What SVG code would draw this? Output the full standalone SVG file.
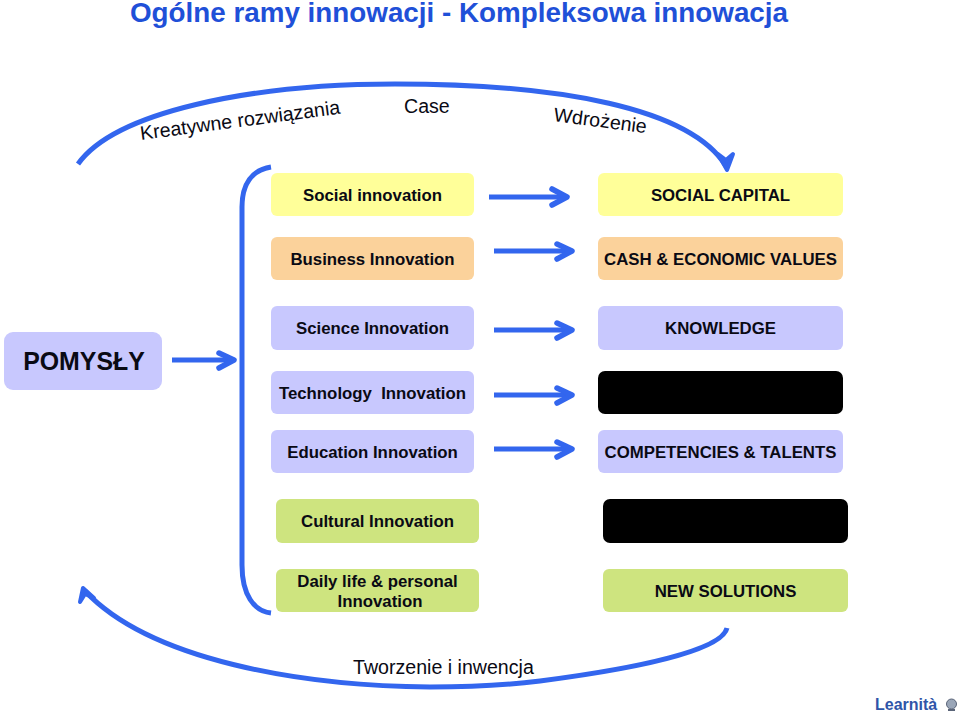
<svg xmlns="http://www.w3.org/2000/svg" width="960" height="714" viewBox="0 0 960 714">
<style>
text{font-family:"Liberation Sans",Arial,sans-serif;fill:#0a0a14}
.b{font-weight:bold;font-size:16.8px;text-anchor:middle}
.l{font-size:19.6px}
.y{fill:#FFFF99}.o{fill:#FBD29B}.p{fill:#C8C8FE}.g{fill:#CEE47F}.k{fill:#000}
.c{fill:none;stroke:#3366EE;stroke-linecap:butt}
.a{stroke-width:5}.h{stroke-width:5.500;stroke-linecap:round;stroke-linejoin:round}
</style>
<rect width="960" height="714" fill="#fff"/>
<text x="459" y="22" text-anchor="middle" style="font-size:27.800px;font-weight:bold;fill:#1F50D8">Ogólne ramy innowacji - Kompleksowa innowacja</text>
<g id="connectors">
<path class="c" stroke-width="5" d="M78 164C115 112 250 84 395 84C560 84 690 108 726 166"/>
<path d="M718 154L727 170L733 154L726 160Z" fill="#3366EE" stroke="#3366EE" stroke-width="4" stroke-linejoin="round"/>
<path class="c" stroke-width="5" d="M271 167C252 170 242 184 242 207V565C242 595 254 611 271 613"/>
<path class="c" stroke-width="5" d="M727 628C722 650 640 668 540 681C500 686 460 687 430 687C300 686 150 660 85 591"/>
<path d="M80 602L83 588L94 598L85 594Z" fill="#3366EE" stroke="#3366EE" stroke-width="4" stroke-linejoin="round"/>
<g id="arrows">
<path class="c a" d="M172 360H232"/><path class="c h" d="M219 353L234 360L219 368"/>
<path class="c a" d="M489 197H565"/><path class="c h" d="M552 189L567 197L552 205"/>
<path class="c a" d="M494 251H570"/><path class="c h" d="M557 244L572 251L557 259"/>
<path class="c a" d="M494 330H570"/><path class="c h" d="M557 323L572 330L557 338"/>
<path class="c a" d="M494 395H570"/><path class="c h" d="M557 388L572 395L557 403"/>
<path class="c a" d="M494 449H570"/><path class="c h" d="M557 442L572 449L557 457"/>
</g>
</g>
<g id="pomysly"><rect class="p" x="4" y="332" width="158" height="58" rx="9"/><text x="84" y="370" text-anchor="middle" style="font-size:24.900px;font-weight:bold">POMYSŁY</text></g>
<g id="social"><rect class="y" x="271" y="173" width="203" height="43" rx="6"/><text class="b" x="372.500" y="201">Social innovation</text></g>
<g id="business"><rect class="o" x="271" y="237" width="203" height="43" rx="6"/><text class="b" x="372.500" y="265">Business Innovation</text></g>
<g id="science"><rect class="p" x="271" y="306" width="203" height="44" rx="6"/><text class="b" x="372.500" y="334">Science Innovation</text></g>
<g id="technology"><rect class="p" x="271" y="371" width="203" height="43" rx="6"/><text class="b" x="372.500" y="399" xml:space="preserve">Technology  Innovation</text></g>
<g id="education"><rect class="p" x="271" y="430" width="203" height="43" rx="6"/><text class="b" x="372.500" y="458">Education Innovation</text></g>
<g id="cultural"><rect class="g" x="276" y="499" width="203" height="44" rx="6"/><text class="b" x="377.500" y="527">Cultural Innovation</text></g>
<g id="daily"><rect class="g" x="276" y="569" width="203" height="43" rx="6"/><text class="b" x="377.500" y="587">Daily life &amp; personal</text><text class="b" x="380" y="607">Innovation</text></g>
<g id="capital"><rect class="y" x="598" y="173" width="245" height="43" rx="6"/><text class="b" x="720.500" y="201">SOCIAL CAPITAL</text></g>
<g id="cash"><rect class="o" x="598" y="237" width="245" height="43" rx="6"/><text class="b" x="720.500" y="265">CASH &amp; ECONOMIC VALUES</text></g>
<g id="knowledge"><rect class="p" x="598" y="306" width="245" height="44" rx="6"/><text class="b" x="720.500" y="334">KNOWLEDGE</text></g>
<g id="black1"><rect class="k" x="598" y="371" width="245" height="43" rx="7"/></g>
<g id="competencies"><rect class="p" x="598" y="430" width="245" height="43" rx="6"/><text class="b" x="720.500" y="458">COMPETENCIES &amp; TALENTS</text></g>
<g id="black2"><rect class="k" x="603" y="499" width="245" height="44" rx="7"/></g>
<g id="solutions"><rect class="g" x="603" y="569" width="245" height="43" rx="6"/><text class="b" x="725.500" y="597">NEW SOLUTIONS</text></g>
<g id="labels">
<text class="l" transform="translate(141 140) rotate(-7.500)">Kreatywne rozwiązania</text>
<text class="l" x="404" y="113">Case</text>
<text class="l" transform="translate(553 121) rotate(7.500)">Wdrożenie</text>
<text x="353" y="674" style="font-size:19.600px">Tworzenie i inwencja</text>
</g>
<g id="logo">
<text x="875" y="710" style="font-size:16px;font-weight:bold;fill:#2F55A8">Learnità</text>
<circle cx="951.500" cy="704" r="5" fill="#9aa6b8" stroke="#5a6478"/>
<path d="M948 710h7" stroke="#5a6478" stroke-width="2"/>
</g>
</svg>
